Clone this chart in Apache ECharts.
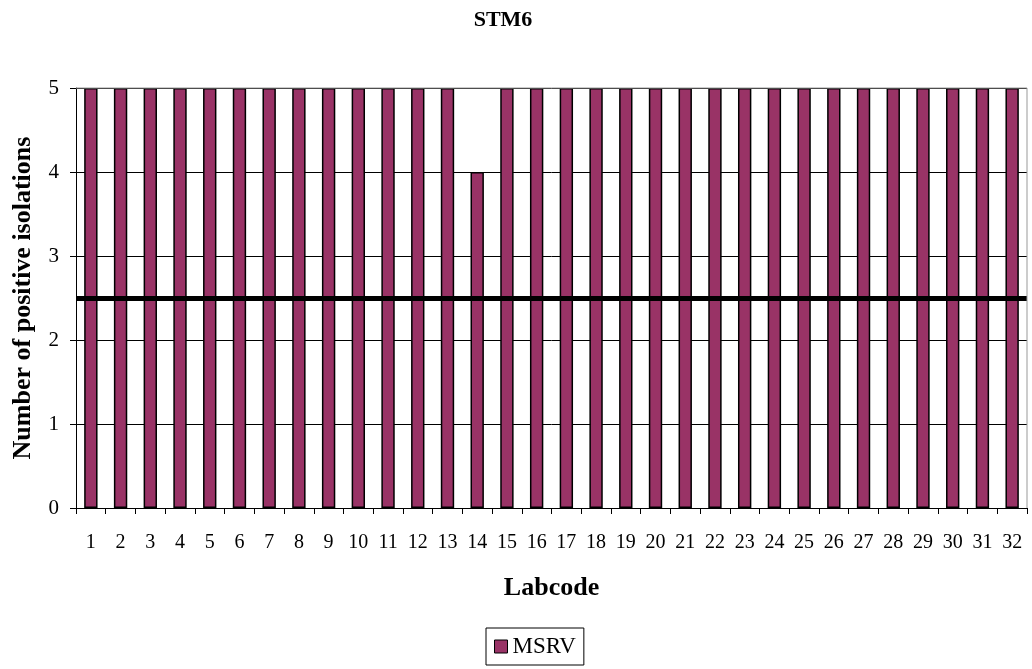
<!DOCTYPE html>
<html>
<head>
<meta charset="utf-8">
<script src="https://cdn.jsdelivr.net/npm/echarts@6/dist/echarts.min.js"></script>
<style>
  html, body { margin: 0; padding: 0; background: #fff; }
  #chart { width: 1032px; height: 669px; }
</style>
</head>
<body>
<div id="chart"></div>
<script>
const labcodes = ["1","2","3","4","5","6","7","8","9","10","11","12","13","14","15","16",
  "17","18","19","20","21","22","23","24","25","26","27","28","29","30","31","32"];
const msrv = [5,5,5,5,5,5,5,5,5,5,5,5,5,4,5,5,5,5,5,5,5,5,5,5,5,5,5,5,5,5,5,5];
const threshold = 2.5;
const yTicks = [0, 1, 2, 3, 4, 5];

const font = "'Liberation Serif', 'Times New Roman', serif";
const chart = echarts.init(document.getElementById("chart"));

chart.setOption({
  animation: false,
  title: {
    text: "STM6",
    left: 498,
    top: 4,
    textAlign: "center",
    textStyle: { fontFamily: font, fontSize: 22, fontWeight: "bold", color: "#000" }
  },
  grid: { left: 76, right: 5, top: 88, bottom: 161, outerBoundsMode: "none", containLabel: false },
  legend: {
    data: ["MSRV"],
    left: 486,
    top: 628,
    icon: "rect",
    itemWidth: 13,
    itemHeight: 13,
    itemGap: 7,
    padding: [7, 8, 7, 8],
    borderColor: "#000",
    borderWidth: 1,
    itemStyle: { borderColor: "#000", borderWidth: 1 },
    textStyle: { fontFamily: font, fontSize: 23, color: "#000" }
  },
  xAxis: {
    type: "category",
    data: labcodes,
    name: "Labcode",
    nameLocation: "middle",
    nameGap: 67,
    nameTextStyle: { fontFamily: font, fontSize: 26, fontWeight: "bold", color: "#000" },
    axisLine: { lineStyle: { color: "#000", width: 1 } },
    axisTick: { show: true, length: 6, lineStyle: { color: "#000" } },
    axisLabel: { fontFamily: font, fontSize: 20, color: "#000", margin: 25, interval: 0 }
  },
  yAxis: {
    type: "value",
    min: 0,
    max: 5,
    interval: 1,
    name: "Number of positive isolations",
    nameLocation: "middle",
    nameGap: 40,
    nameTextStyle: { fontFamily: font, fontSize: 26, fontWeight: "bold", color: "#000" },
    axisLine: { show: true, lineStyle: { color: "#000", width: 1 } },
    axisTick: { show: true, length: 6, inside: false, lineStyle: { color: "#000" } },
    axisLabel: {
      fontFamily: font, fontSize: 21, color: "#000", margin: 17,
      formatter: v => yTicks.includes(v) ? String(v) : ""
    },
    splitLine: { show: true, lineStyle: { color: "#000", width: 1 } }
  },
  series: [{
    name: "MSRV",
    type: "bar",
    data: msrv,
    barWidth: "45%",
    itemStyle: { color: "#993366", borderColor: "#000", borderWidth: 1.5 },
    markLine: {
      silent: true,
      symbol: "none",
      label: { show: false },
      lineStyle: { color: "#000", width: 5, type: "solid" },
      data: [{ yAxis: threshold }]
    }
  }],
  graphic: [{
    type: "polyline",
    shape: { points: [[76, 88], [1027, 88], [1027, 508]] },
    style: { stroke: "#999", lineWidth: 1, fill: null },
    z: 10
  }]
});
</script>
</body>
</html>
